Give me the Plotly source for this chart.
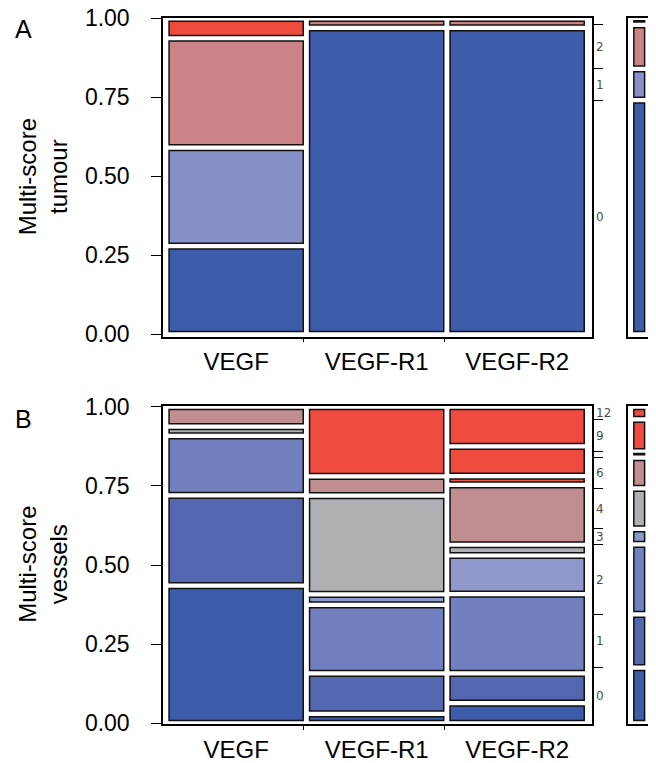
import plotly.graph_objects as go

# ---------------- data ----------------
columns = ["VEGF", "VEGF-R1", "VEGF-R2"]

tumour_levels = ["0", "1", "2", "3"]
tumour_colors = ["#3D5DAB", "#8690C6", "#CC8387", "#EF4B3F"]
tumour_vegf = [0.279, 0.312, 0.346, 0.063]
tumour_r1 = [0.970, 0.0, 0.030, 0.0]
tumour_r2 = [0.970, 0.0, 0.030, 0.0]
tumour_overall = [0.741, 0.099, 0.139, 0.021]
tumour_label_shown = ["0", "1", "2"]

vessel_levels = ["0", "1", "2", "3", "4", "6", "8", "9", "12"]
vessel_colors = ["#3D5DAB", "#5466B0", "#7380C0", "#8F97CB", "#AFB0B3",
                 "#C08E90", "#E9574D", "#EF4B3F", "#F04B40"]
vessel_vegf = [0.435, 0.285, 0.188, 0.0, 0.029, 0.063, 0.0, 0.0, 0.0]
vessel_r1 = [0.030, 0.128, 0.216, 0.033, 0.312, 0.061, 0.0, 0.220, 0.0]
vessel_r2 = [0.064, 0.094, 0.250, 0.122, 0.034, 0.189, 0.028, 0.094, 0.125]
vessel_overall = [0.176, 0.168, 0.221, 0.049, 0.128, 0.097, 0.019, 0.102, 0.040]
vessel_label_shown = ["0", "1", "2", "3", "4", "6", "9", "12"]

y_ticks = [0, 0.25, 0.5, 0.75, 1.0]
y_ticktext = ["0.00", "0.25", "0.50", "0.75", "1.00"]

# ---------------- style ----------------
PAGE_OFF = 8                 # browser body margin
W, H = 656 - PAGE_OFF, 763 - PAGE_OFF


def px(xp):
    return (xp - PAGE_OFF) / W


def py(yp):
    return 1 - (yp - PAGE_OFF) / H


FONT = "Liberation Sans, Arial, sans-serif"
GAP = 0.018          # white spacing between tiles (y units)
COLW = 0.955         # tile width (x units)
MARGW = 0.45
OUTLINE = dict(color="#111111", width=1.5)

fig = go.Figure()


def add_panel(col_data, overall, levels, colors, xa, ya, xm, ym):
    for li, lev in enumerate(levels):
        xs, bases, hs = [], [], []
        for ci, vals in enumerate(col_data):
            v = vals[li]
            if v <= 0:
                continue
            start = sum(vals[:li])
            xs.append(ci)
            bases.append(start + GAP / 2)
            hs.append(max(v - GAP, 0.003))
        if xs:
            fig.add_trace(go.Bar(x=xs, y=hs, base=bases, width=COLW,
                                 marker=dict(color=colors[li], line=OUTLINE),
                                 xaxis=xa, yaxis=ya, showlegend=False,
                                 hoverinfo="skip"))
        v = overall[li]
        if v > 0:
            fig.add_trace(go.Bar(x=[0], y=[max(v - GAP, 0.004)],
                                 base=[sum(overall[:li]) + GAP / 2],
                                 width=MARGW,
                                 marker=dict(color=colors[li], line=OUTLINE),
                                 xaxis=xm, yaxis=ym, showlegend=False,
                                 hoverinfo="skip"))


add_panel([tumour_vegf, tumour_r1, tumour_r2], tumour_overall,
          tumour_levels, tumour_colors, "x", "y", "x2", "y3")
add_panel([vessel_vegf, vessel_r1, vessel_r2], vessel_overall,
          vessel_levels, vessel_colors, "x3", "y4", "x4", "y6")

# invisible traces so the right-hand label axes render
fig.add_trace(go.Scatter(x=[None], y=[None], xaxis="x", yaxis="y2",
                         showlegend=False, hoverinfo="skip"))
fig.add_trace(go.Scatter(x=[None], y=[None], xaxis="x3", yaxis="y5",
                         showlegend=False, hoverinfo="skip"))


def mids_and_bounds(overall, levels, shown):
    mids, txt, bounds = [], [], []
    c = 0
    for v, lev in zip(overall, levels):
        if lev in shown:
            mids.append(c + v / 2)
            txt.append(lev)
        c += v
        bounds.append(c)
    return mids, txt, bounds[:-1]


xdom = [px(163), px(592)]
mdom = [px(627.7), px(651.7)]
ydomA = [py(336.7), py(18.0)]
ydomB = [py(724), py(405.7)]
yrA = [-0.0076, 1.001]
yrB = [-0.0022, 1.0032]
xr = [-0.5206, 2.5327]
mr = [-0.48, 0.52]
col_edges = [0.478, 1.48]

line_kw = dict(showline=True, linecolor="black", linewidth=1.5, mirror=True,
               showgrid=False, zeroline=False)

main_x = dict(domain=xdom, range=xr, tickvals=[0, 1, 2], ticktext=columns,
              ticks="", tickfont=dict(family=FONT, size=24, color="black"),
              ticklabelstandoff=3, ticklabeloverflow="allow",
              minor=dict(tickvals=col_edges, ticks="outside", ticklen=4,
                         tickcolor="black", tickwidth=1),
              **line_kw)
main_y = dict(tickvals=y_ticks, ticktext=y_ticktext,
              ticks="outside", ticklen=10, tickwidth=1.2, tickcolor="black",
              tickfont=dict(family=FONT, size=23, color="black"),
              ticklabelstandoff=17, ticklabeloverflow="allow", **line_kw)
marg_x = dict(domain=mdom, range=mr, showticklabels=False, ticks="",
              **line_kw)

mA, tA, bA = mids_and_bounds(tumour_overall, tumour_levels, tumour_label_shown)
mB, tB, bB = mids_and_bounds(vessel_overall, vessel_levels, vessel_label_shown)

right_font = dict(family="DejaVu Sans, sans-serif", size=12, color="#4D4D4D")
right_kw = dict(side="right", ticks="", tickfont=right_font, color="#4D4D4D",
                ticklabelstandoff=3, showgrid=False, zeroline=False,
                showline=False, ticklabeloverflow="allow")

fig.update_layout(
    width=W, height=H, margin=dict(l=0, r=0, t=0, b=0),
    paper_bgcolor="white", plot_bgcolor="white", barmode="overlay",
    xaxis=dict(anchor="y", **main_x),
    yaxis=dict(anchor="x", domain=ydomA, range=yrA, **main_y),
    yaxis2=dict(anchor="x", overlaying="y", range=yrA,
                tickvals=mA, ticktext=tA,
                minor=dict(tickvals=bA, ticks="outside", ticklen=10,
                           tickcolor="black", tickwidth=1), **right_kw),
    xaxis2=dict(anchor="y3", **marg_x),
    yaxis3=dict(anchor="x2", domain=ydomA, range=yrA, showticklabels=False,
                ticks="", **line_kw),
    xaxis3=dict(anchor="y4", **main_x),
    yaxis4=dict(anchor="x3", domain=ydomB, range=yrB, **main_y),
    yaxis5=dict(anchor="x3", overlaying="y4", range=yrB,
                tickvals=mB, ticktext=tB,
                minor=dict(tickvals=bB, ticks="outside", ticklen=10,
                           tickcolor="black", tickwidth=1), **right_kw),
    xaxis4=dict(anchor="y6", **marg_x),
    yaxis6=dict(anchor="x4", domain=ydomB, range=yrB, showticklabels=False,
                ticks="", **line_kw),
)

for ax in ["xaxis", "yaxis", "yaxis2", "xaxis2", "yaxis3", "xaxis3", "yaxis4",
           "yaxis5", "xaxis4", "yaxis6"]:
    fig.layout[ax].automargin = False

ann_font = dict(family=FONT, size=24, color="black")
fig.add_annotation(text="Multi-score<br>tumour", x=px(43), y=sum(ydomA) / 2,
                   xref="paper", yref="paper", textangle=-90, showarrow=False,
                   font=ann_font, xanchor="center", yanchor="middle")
fig.add_annotation(text="Multi-score<br>vessels", x=px(43), y=sum(ydomB) / 2,
                   xref="paper", yref="paper", textangle=-90, showarrow=False,
                   font=ann_font, xanchor="center", yanchor="middle")
fig.add_annotation(text="A", x=px(13), y=py(13), xref="paper", yref="paper",
                   showarrow=False, font=dict(family=FONT, size=25, color="black"),
                   xanchor="left", yanchor="top")
fig.add_annotation(text="B", x=px(13), y=py(403), xref="paper", yref="paper",
                   showarrow=False, font=dict(family=FONT, size=25, color="black"),
                   xanchor="left", yanchor="top")

fig.write_html("out.html")
